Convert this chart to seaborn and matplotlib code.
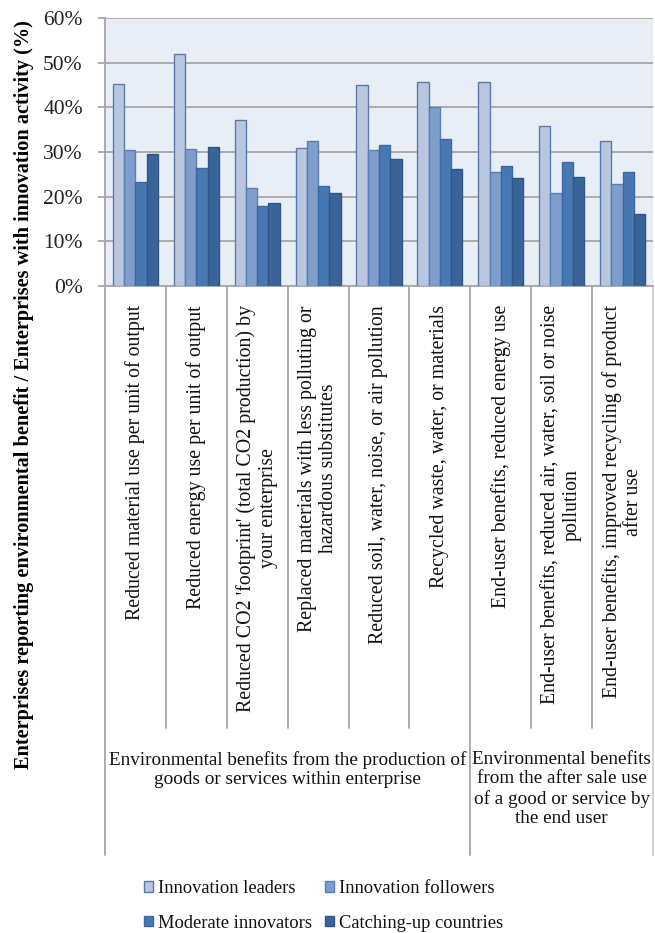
import matplotlib
matplotlib.use("Agg")
import matplotlib.pyplot as plt
import matplotlib.transforms as mtransforms
from matplotlib.ticker import PercentFormatter
import seaborn as sns
import pandas as pd

# Benefit categories (x-axis) and their two groups
categories = [
    "Reduced material use per unit of output",
    "Reduced energy use per unit of output",
    "Reduced CO2 'footprint' (total CO2 production) by\nyour enterprise",
    "Replaced materials with less polluting or\nhazardous substitutes",
    "Reduced soil, water, noise, or air pollution",
    "Recycled waste, water, or materials",
    "End-user benefits, reduced energy use",
    "End-user benefits, reduced air, water, soil or noise\npollution",
    "End-user benefits, improved recycling of product\nafter use",
]
groups = [
    "Environmental benefits from the production of\ngoods or services within enterprise",
    "Environmental benefits\nfrom the after sale use\nof a good or service by\nthe end user",
]
group_sizes = [6, 3]

series = ["Innovation leaders", "Innovation followers",
          "Moderate innovators", "Catching-up countries"]

# Share of innovating enterprises reporting each benefit (%)
leaders = [45.2, 51.9, 37.2, 30.8, 44.9, 45.7, 45.7, 35.9, 32.4]
followers = [30.4, 30.7, 21.9, 32.4, 30.4, 40.1, 25.5, 20.9, 22.8]
moderate = [23.3, 26.5, 18.0, 22.5, 31.5, 33.0, 26.8, 27.8, 25.5]
catching_up = [29.5, 31.1, 18.5, 20.9, 28.4, 26.2, 24.2, 24.4, 16.2]

fills = ["#B8C6E0", "#7F9ECB", "#4778B2", "#3A6499"]
edges = ["#5A7BAA", "#5B7FB2", "#3A69A3", "#2E5688"]

rows = []
for name, vals in zip(series, [leaders, followers, moderate, catching_up]):
    for i, v in enumerate(vals):
        rows.append({"cat": i, "series": name, "value": v})
df = pd.DataFrame(rows)

sns.set_style("white")
plt.rcParams["font.family"] = ["Liberation Serif", "DejaVu Serif"]
FS = 14.3
GRID = "#A6A6A6"
TXT = "#111111"

W, H = 655, 933
fig = plt.figure(figsize=(W / 100, H / 100), dpi=100)
L, R, T, B = 105, 653, 18, 286
ax = fig.add_axes([L / W, 1 - B / H, (R - L) / W, (B - T) / H])
ax.set_facecolor("#E9EEF6")

sns.barplot(data=df, x="cat", y="value", hue="series", hue_order=series,
            palette=fills, width=0.74, gap=0, saturation=1, ax=ax,
            errorbar=None, legend=False, zorder=3)
for cont, ec in zip(ax.containers, edges):
    for p in cont:
        p.set_edgecolor(ec)
        p.set_linewidth(1.0)

ax.set_xlim(-0.5, len(categories) - 0.5)
ax.set_ylim(0, 60)
ax.set_yticks(range(0, 61, 10))
ax.yaxis.set_major_formatter(PercentFormatter(decimals=0))
ax.yaxis.grid(True, color=GRID, linewidth=1.3, zorder=1)
ax.set_axisbelow(True)
ax.set_xticks([])
ax.set_xlabel("")
ax.set_ylabel("")
for s in ["top", "right"]:
    ax.spines[s].set_visible(False)
for s in ["left", "bottom"]:
    ax.spines[s].set_color(GRID)
    ax.spines[s].set_linewidth(1.3)
ax.tick_params(axis="y", left=True, length=5, width=1.3, color=GRID,
               pad=11, labelsize=15.5, labelcolor="#222222")

# Category table below the axis
trans = mtransforms.blended_transform_factory(ax.transData, fig.transFigure)

def fy(px):
    return 1 - px / H

cell_bottom, group_bottom = 728, 855
bounds = [i - 0.5 for i in range(len(categories) + 1)]
group_edges = [-0.5]
for n in group_sizes:
    group_edges.append(group_edges[-1] + n)
for xb in bounds:
    yb = group_bottom if xb in group_edges else cell_bottom
    col = "#D0D0D0" if xb == bounds[-1] else GRID
    ax.plot([xb, xb], [fy(B), fy(yb)], transform=trans, color=col,
            linewidth=1.3, clip_on=False)

for i, lab in enumerate(categories):
    ax.text(i, fy(305), lab, transform=trans, rotation=90, ha="center",
            va="top", multialignment="center", fontsize=FS,
            linespacing=1.18, color=TXT)

for k, lab in enumerate(groups):
    xc = (group_edges[k] + group_edges[k + 1]) / 2
    ax.text(xc, fy(751), lab, transform=trans, ha="center", va="top",
            multialignment="center", fontsize=13.8, linespacing=1.19,
            color=TXT)

fig.text(24 / W, fy(20),
         "Enterprises reporting environmental benefit / Enterprises with innovation activity (%)",
         rotation=90, ha="center", va="top", fontsize=14.6,
         fontweight="bold", color="#000000")

# Legend filled row by row: leaders, followers / moderate, catching-up
order = [0, 2, 1, 3]
leg = fig.legend([ax.containers[i][0] for i in order],
                 [series[i] for i in order], ncol=2, loc="upper left",
                 bbox_to_anchor=(144 / W, fy(880)), frameon=False,
                 fontsize=13.3, handlelength=0.5, handleheight=0.5,
                 handletextpad=0.25, columnspacing=0.7, labelspacing=0.95,
                 borderaxespad=0, borderpad=0)
for t in leg.get_texts():
    t.set_color(TXT)

fig.savefig("out.png", dpi=100)
